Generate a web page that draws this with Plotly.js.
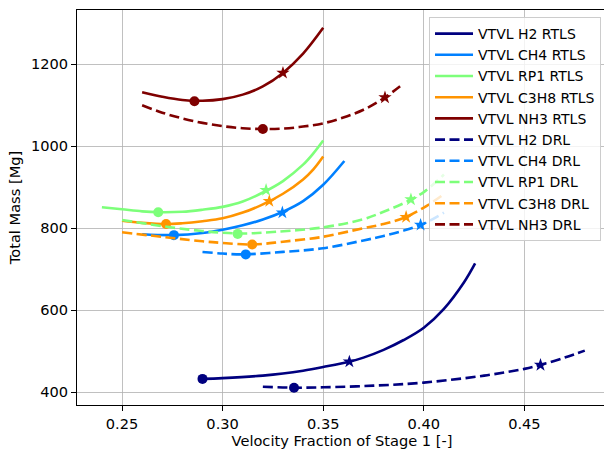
<!DOCTYPE html>
<html>
<head>
<meta charset="utf-8">
<script src="https://cdn.plot.ly/plotly-3.0.1.min.js"></script>
<style>
html,body{margin:0;padding:0;overflow:hidden;background:#fff;}
#chart{width:612px;height:455px;}
</style>
</head>
<body>
<div id="chart"></div>
<script>
// ---- data ----
const seriesNames = ["VTVL H2 RTLS","VTVL CH4 RTLS","VTVL RP1 RTLS","VTVL C3H8 RTLS","VTVL NH3 RTLS",
                     "VTVL H2 DRL","VTVL CH4 DRL","VTVL RP1 DRL","VTVL C3H8 DRL","VTVL NH3 DRL"];
const seriesColors = ["#00007f","#0080ff","#7dff7a","#ff9400","#7f0000",
                      "#00007f","#0080ff","#7dff7a","#ff9400","#7f0000"];

const h2RtlsX   = [0.29, 0.30, 0.32, 0.33, 0.34, 0.35, 0.363, 0.37, 0.38, 0.39, 0.40, 0.41, 0.42, 0.4255];
const h2RtlsY   = [432, 434, 440, 445, 452, 461, 474, 484, 503, 527, 557, 603, 668, 714];
const ch4RtlsX  = [0.26, 0.2758, 0.29, 0.30, 0.31, 0.32, 0.33, 0.34, 0.35, 0.3605];
const ch4RtlsY  = [785, 783, 788, 796, 807, 821, 840, 866, 906, 964];
const rp1RtlsX  = [0.24, 0.25, 0.26, 0.268, 0.28, 0.29, 0.30, 0.31, 0.32, 0.33, 0.34, 0.345, 0.35];
const rp1RtlsY  = [851, 846, 841, 839, 840, 845, 852, 865, 887, 915, 955, 982, 1014];
const c3h8RtlsX = [0.25, 0.26, 0.2719, 0.28, 0.29, 0.30, 0.31, 0.32, 0.33, 0.34, 0.345, 0.35];
const c3h8RtlsY = [818, 813, 810, 812, 817, 824, 838, 858, 884, 919, 943, 975];
const nh3RtlsX  = [0.26, 0.27, 0.28, 0.29, 0.30, 0.31, 0.32, 0.33, 0.34, 0.35];
const nh3RtlsY  = [1132, 1121, 1113, 1111, 1115, 1126, 1146, 1179, 1226, 1289];

const h2DrlX    = [0.32, 0.3355, 0.35, 0.375, 0.40, 0.43, 0.45, 0.458, 0.47, 0.48];
const h2DrlY    = [413, 410.6, 411.5, 415.5, 423, 440, 456.5, 466, 484, 501];
const ch4DrlX   = [0.29, 0.30, 0.31, 0.33, 0.35, 0.37, 0.38, 0.39, 0.40, 0.41];
const ch4DrlY   = [742, 738, 736, 742, 751, 770, 781, 794, 811, 838];
const rp1DrlX   = [0.25, 0.275, 0.29, 0.30, 0.31, 0.32, 0.35, 0.37, 0.38, 0.39, 0.40, 0.41];
const rp1DrlY   = [820, 801.5, 793, 789, 787, 789, 802, 822, 840, 861, 888, 931];
const c3h8DrlX  = [0.25, 0.275, 0.29, 0.30, 0.315, 0.33, 0.35, 0.37, 0.38, 0.39, 0.40, 0.41];
const c3h8DrlY  = [790, 776, 768, 764, 760, 767, 779, 800, 810, 825, 850, 883];
const nh3DrlX   = [0.26, 0.27, 0.28, 0.29, 0.30, 0.31, 0.32, 0.33, 0.34, 0.35, 0.36, 0.37, 0.38, 0.39];
const nh3DrlY   = [1100, 1082, 1068, 1057, 1049, 1044, 1042, 1043, 1048, 1056, 1070, 1089, 1117, 1153];

// circle (minimum) markers and star markers, same order as seriesNames
const circleX = [0.29, 0.2758, 0.268, 0.2719, 0.286, 0.3355, 0.3115, 0.3075, 0.3147, 0.32];
const circleY = [432, 783, 839, 810, 1110, 410.6, 736, 786, 760, 1042];
const starX   = [0.363, 0.3297, 0.3216, 0.3232, 0.33, 0.458, 0.3984, 0.3936, 0.3912, 0.3807];
const starY   = [474, 838, 893, 866, 1179, 466, 808, 870, 827, 1119];

const xTickVals = [0.25, 0.30, 0.35, 0.40, 0.45];
const xTickText = ["0.25", "0.30", "0.35", "0.40", "0.45"];
const yTickVals = [400, 600, 800, 1000, 1200];
const yTickText = ["400", "600", "800", "1000", "1200"];

const seriesX = [h2RtlsX, ch4RtlsX, rp1RtlsX, c3h8RtlsX, nh3RtlsX, h2DrlX, ch4DrlX, rp1DrlX, c3h8DrlX, nh3DrlX];
const seriesY = [h2RtlsY, ch4RtlsY, rp1RtlsY, c3h8RtlsY, nh3RtlsY, h2DrlY, ch4DrlY, rp1DrlY, c3h8DrlY, nh3DrlY];

// ---- traces ----
const FONT = "DejaVu Sans, Liberation Sans, sans-serif";
const FS = 14.6;
const data = [];
for (let i = 0; i < seriesNames.length; i++) {
  const dashed = i >= 5;
  data.push({
    type: "scatter", mode: "lines", name: seriesNames[i],
    x: seriesX[i], y: seriesY[i],
    line: {color: seriesColors[i], width: 2.6, shape: "spline", smoothing: 1,
           dash: dashed ? "10px,4.5px" : "solid"},
    hoverinfo: "skip"
  });
  data.push({
    type: "scatter", mode: "markers", showlegend: false,
    x: [circleX[i]], y: [circleY[i]],
    marker: {symbol: "circle", size: 10, color: seriesColors[i], line: {width: 0}},
    hoverinfo: "skip"
  });
  data.push({
    type: "scatter", mode: "markers", showlegend: false,
    x: [starX[i]], y: [starY[i]],
    marker: {symbol: "star", size: 10, color: seriesColors[i], line: {width: 0}},
    hoverinfo: "skip"
  });
}

const axisCommon = {
  showline: true, linecolor: "#000", linewidth: 1, mirror: true,
  ticks: "outside", ticklen: 5, tickwidth: 1, tickcolor: "#000",
  showgrid: true, gridcolor: "#b0b0b0", gridwidth: 0.8,
  zeroline: false, tickfont: {family: FONT, size: FS, color: "#000"},
  automargin: false
};

const layout = {
  width: 612, height: 455,
  margin: {l: 77, r: 5, t: 10, b: 50, pad: 0},
  paper_bgcolor: "#fff", plot_bgcolor: "#fff",
  font: {family: FONT, size: FS, color: "#000"},
  showlegend: true,
  xaxis: Object.assign({}, axisCommon, {
    range: [0.22763, 0.49105],
    tickmode: "array", tickvals: xTickVals, ticktext: xTickText,
    title: {text: "Velocity Fraction of Stage 1 [-]", font: {family: FONT, size: FS, color: "#000"}, standoff: 5}
  }),
  yaxis: Object.assign({}, axisCommon, {
    range: [368.3, 1332.6],
    tickmode: "array", tickvals: yTickVals, ticktext: yTickText,
    title: {text: "Total Mass [Mg]", font: {family: FONT, size: FS, color: "#000"}, standoff: 6}
  }),
  legend: {
    x: 0.9887, y: 0.9823, xanchor: "right", yanchor: "top",
    bgcolor: "rgba(255,255,255,0.8)", bordercolor: "#cccccc", borderwidth: 1,
    font: {family: FONT, size: 14, color: "#000"},
    traceorder: "normal", itemwidth: 38, tracegroupgap: 0
  }
};

Plotly.newPlot("chart", data, layout, {displayModeBar: false, staticPlot: true});
</script>
</body>
</html>
